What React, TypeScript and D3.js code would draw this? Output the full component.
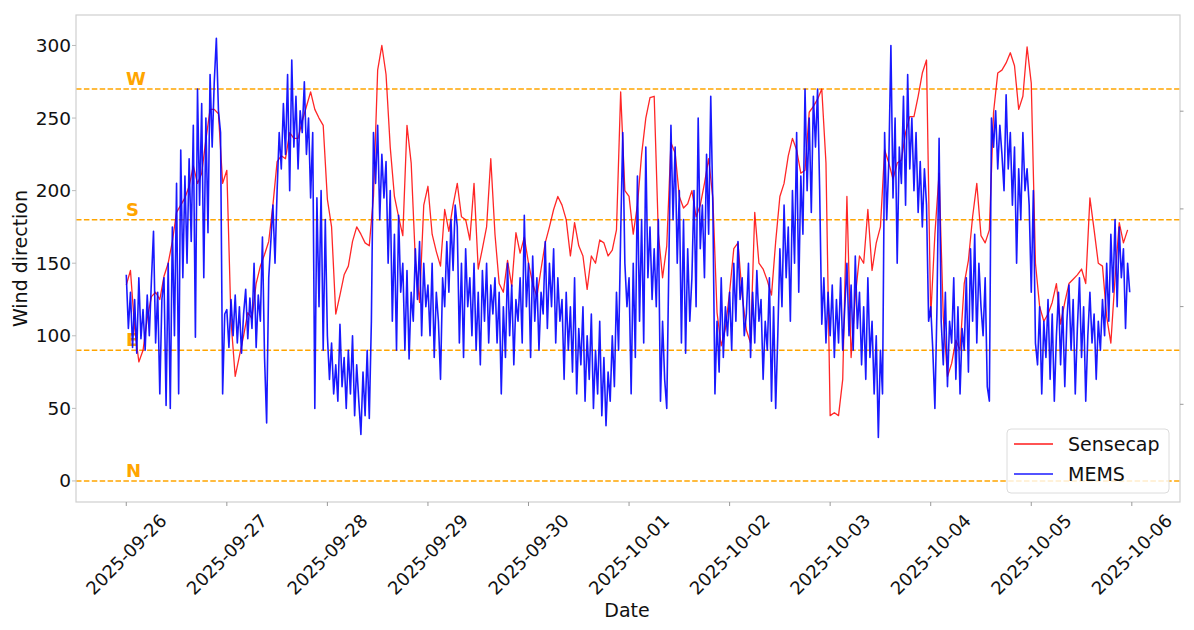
import * as d3 from "d3";

const WIDTH = 1194;
const HEIGHT = 630;
const M = { left: 76, right: 1180, top: 15, bottom: 502 };
const FONT = "DejaVu Sans, sans-serif";

const START = new Date(2025, 8, 26, 0, 0);
const HOUR = 3600 * 1000;

// Sensecap, hourly readings (degrees), one array per day
const sensecapDay0 = [135, 145, 105, 82, 90, 112, 127, 130, 125, 141, 150, 165, 185, 190, 195, 203, 217, 205, 212, 235, 256, 256, 253, 205];
const sensecapDay1 = [214, 110, 72, 86, 100, 116, 112, 136, 148, 156, 165, 190, 220, 224, 222, 240, 236, 236, 248, 258, 268, 256, 250, 245];
const sensecapDay2 = [194, 175, 115, 128, 142, 148, 165, 175, 170, 164, 162, 196, 283, 300, 280, 230, 196, 182, 169, 245, 219, 152, 123, 190];
const sensecapDay3 = [203, 170, 158, 148, 187, 172, 190, 205, 182, 180, 166, 205, 146, 160, 175, 222, 170, 136, 130, 152, 134, 171, 157, 168];
const sensecapDay4 = [150, 136, 127, 146, 164, 175, 187, 196, 190, 180, 155, 178, 162, 155, 132, 155, 150, 166, 164, 155, 159, 173, 268, 200];
const sensecapDay5 = [196, 170, 190, 225, 250, 264, 265, 170, 140, 162, 233, 226, 196, 188, 191, 200, 182, 190, 205, 222, 195, 116, 93, 105];
const sensecapDay6 = [130, 160, 164, 128, 104, 95, 185, 150, 146, 138, 128, 165, 196, 205, 224, 236, 228, 212, 214, 254, 258, 263, 270, 219];
const sensecapDay7 = [45, 47, 45, 70, 196, 85, 127, 155, 150, 187, 145, 164, 175, 228, 219, 208, 219, 221, 240, 251, 251, 265, 281, 290];
const sensecapDay8 = [113, 170, 212, 113, 72, 81, 97, 90, 136, 152, 182, 205, 169, 164, 173, 254, 281, 283, 288, 295, 286, 256, 265, 299];
const sensecapDay9 = [274, 150, 120, 110, 115, 123, 136, 108, 123, 136, 139, 142, 146, 136, 195, 173, 150, 148, 113, 95, 140, 178, 164, 173];

// MEMS, half-hourly readings (degrees), one array per day
const memsDay0 = [142, 105, 130, 92, 125, 88, 140, 98, 118, 90, 128, 100, 138, 172, 95, 130, 60, 125, 140, 52, 150, 50, 175, 100, 205, 60, 228, 140, 210, 150, 222, 165, 245, 99, 270, 190, 260, 140, 250, 171, 280, 230, 275, 305, 255, 240, 60, 115];
const memsDay1 = [118, 92, 125, 100, 128, 95, 120, 88, 115, 132, 98, 126, 105, 150, 92, 128, 110, 168, 85, 40, 140, 165, 190, 150, 200, 240, 215, 260, 225, 280, 200, 290, 230, 265, 215, 255, 240, 275, 225, 250, 195, 240, 50, 195, 120, 200, 90, 180];
const memsDay2 = [100, 70, 95, 60, 80, 55, 108, 65, 85, 50, 90, 60, 100, 45, 80, 55, 32, 75, 45, 90, 43, 110, 240, 205, 245, 180, 225, 195, 220, 150, 200, 110, 170, 90, 183, 130, 150, 90, 145, 84, 130, 110, 160, 125, 165, 100, 150, 120];
const memsDay3 = [135, 100, 150, 85, 130, 110, 70, 140, 120, 165, 130, 180, 145, 190, 175, 95, 150, 85, 160, 120, 140, 100, 150, 90, 130, 80, 145, 110, 150, 95, 135, 115, 140, 95, 130, 60, 120, 85, 150, 100, 135, 80, 125, 110, 140, 95, 183, 120];
const memsDay4 = [150, 85, 155, 110, 140, 90, 130, 115, 165, 105, 150, 120, 160, 95, 140, 110, 125, 70, 130, 90, 120, 75, 140, 60, 105, 80, 120, 55, 100, 70, 115, 50, 90, 60, 110, 45, 85, 38, 75, 55, 100, 65, 130, 90, 170, 240, 150, 120];
const memsDay5 = [140, 60, 150, 85, 210, 110, 180, 95, 230, 140, 175, 125, 160, 120, 180, 55, 110, 70, 50, 150, 245, 180, 230, 150, 200, 95, 180, 88, 160, 110, 140, 200, 120, 250, 160, 190, 140, 225, 170, 265, 190, 60, 110, 75, 140, 85, 120, 100];
const memsDay6 = [130, 90, 150, 110, 165, 125, 140, 100, 115, 150, 85, 130, 95, 145, 110, 125, 70, 110, 90, 140, 55, 120, 50, 100, 160, 120, 190, 140, 175, 110, 200, 150, 240, 130, 210, 170, 270, 200, 250, 185, 265, 230, 270, 200, 108, 140, 95, 130];
const memsDay7 = [100, 135, 85, 125, 95, 140, 90, 120, 150, 100, 135, 90, 155, 105, 130, 80, 120, 70, 140, 85, 110, 60, 100, 30, 90, 60, 240, 180, 220, 300, 195, 250, 150, 230, 205, 265, 190, 280, 215, 250, 200, 240, 185, 220, 175, 215, 190, 110];
const memsDay8 = [120, 90, 50, 120, 236, 110, 80, 130, 65, 110, 95, 140, 70, 120, 60, 105, 90, 140, 75, 160, 110, 170, 95, 150, 120, 100, 140, 65, 55, 250, 230, 255, 215, 245, 225, 200, 266, 215, 240, 190, 230, 150, 215, 180, 240, 200, 215, 190];
const memsDay9 = [130, 200, 95, 80, 120, 60, 110, 85, 125, 70, 115, 55, 100, 130, 80, 120, 65, 110, 135, 90, 125, 60, 105, 140, 85, 120, 55, 100, 130, 95, 115, 70, 110, 90, 125, 100, 150, 110, 170, 130, 180, 120, 175, 140, 160, 105, 150, 130];

const yTicks = [0, 50, 100, 150, 200, 250, 300];
const dateTicks = ["2025-09-26", "2025-09-27", "2025-09-28", "2025-09-29", "2025-09-30", "2025-10-01", "2025-10-02", "2025-10-03", "2025-10-04", "2025-10-05", "2025-10-06"];
const compassLabels = ["N", "E", "S", "W"];
const compassDegrees = [0, 90, 180, 270];
const seriesNames = ["Sensecap", "MEMS"];
const seriesColors = ["red", "blue"];
const twinTicks = [0.2, 0.4, 0.6, 0.8];

type P = { t: Date; v: number };

export default function App() {
  const sensecapVals = [sensecapDay0, sensecapDay1, sensecapDay2, sensecapDay3, sensecapDay4, sensecapDay5, sensecapDay6, sensecapDay7, sensecapDay8, sensecapDay9].flat();
  const memsVals = [memsDay0, memsDay1, memsDay2, memsDay3, memsDay4, memsDay5, memsDay6, memsDay7, memsDay8, memsDay9].flat();

  const sensecap: P[] = sensecapVals.map((v, i) => ({ t: new Date(START.getTime() + i * HOUR), v }));
  const mems: P[] = memsVals.map((v, i) => ({ t: new Date(START.getTime() + (i * HOUR) / 2), v }));

  const x = d3
    .scaleTime()
    .domain([new Date(START.getTime() - 12 * HOUR), new Date(START.getTime() + 251.5 * HOUR)])
    .range([M.left, M.right]);
  const y = d3.scaleLinear().domain([-14.5, 321]).range([M.bottom, M.top]);
  const yTwin = d3.scaleLinear().domain([0, 1]).range([M.bottom, 13.5]);

  const line = d3
    .line<P>()
    .x((d) => x(d.t))
    .y((d) => y(d.v));

  const parse = d3.timeParse("%Y-%m-%d");
  const dates = dateTicks.map((s) => parse(s)!);

  const legendX = 1007;
  const legendY = 429;

  return (
    <svg
      width={WIDTH}
      height={HEIGHT}
      style={{ position: "absolute", left: 0, top: 0, background: "white" }}
      fontFamily={FONT}
    >
      <defs>
        <clipPath id="plot">
          <rect x={M.left} y={M.top} width={M.right - M.left} height={M.bottom - M.top} />
        </clipPath>
      </defs>

      {/* compass reference lines */}
      <g>
        {compassDegrees.map((deg, i) => (
          <g key={deg}>
            <line
              x1={M.left}
              x2={M.right}
              y1={y(deg)}
              y2={y(deg)}
              stroke="orange"
              strokeWidth={1.5}
              strokeDasharray="5.5,2.4"
            />
            <text x={126} y={y(deg) - 4} fill="orange" fontWeight="bold" fontSize={18}>
              {compassLabels[i]}
            </text>
          </g>
        ))}
      </g>

      <g clipPath="url(#plot)" fill="none" strokeLinejoin="round">
        <path d={line(sensecap)!} stroke={seriesColors[0]} strokeWidth={1.3} strokeOpacity={0.85} />
        <path d={line(mems)!} stroke={seriesColors[1]} strokeWidth={1.6} strokeOpacity={0.9} />
      </g>

      {/* frame */}
      <rect
        x={M.left}
        y={M.top}
        width={M.right - M.left}
        height={M.bottom - M.top}
        fill="none"
        stroke="#cfcfcf"
        strokeWidth={1.2}
      />

      {/* y axis */}
      <g>
        {yTicks.map((t) => (
          <g key={t}>
            <line x1={M.left - 4} x2={M.left} y1={y(t)} y2={y(t)} stroke="#bbb" />
            <text x={71} y={y(t)} textAnchor="end" dominantBaseline="central" fontSize={18.5} fill="#111">
              {t}
            </text>
          </g>
        ))}
      </g>

      {/* twin axis ticks on the right */}
      <g>
        {twinTicks.map((t) => (
          <line key={t} x1={M.right} x2={M.right + 3.5} y1={yTwin(t)} y2={yTwin(t)} stroke="#999" />
        ))}
      </g>

      {/* x axis */}
      <g>
        {dates.map((d, i) => {
          const px = x(d);
          const x0 = px + 41.5;
          const y0 = 522;
          return (
            <g key={i}>
              <line x1={px} x2={px} y1={M.bottom} y2={M.bottom + 4} stroke="#999" />
              <text
                x={x0}
                y={y0}
                textAnchor="end"
                fontSize={18}
                fill="#111"
                transform={`rotate(-45, ${x0}, ${y0})`}
              >
                {dateTicks[i]}
              </text>
            </g>
          );
        })}
      </g>

      <text x={627} y={617} textAnchor="middle" fontSize={19} fill="#111">
        Date
      </text>
      <text
        transform={`translate(27, ${(M.top + M.bottom) / 2}) rotate(-90)`}
        textAnchor="middle"
        fontSize={19}
        fill="#111"
      >
        Wind direction
      </text>

      {/* legend */}
      <g>
        <rect
          x={legendX}
          y={legendY}
          width={162}
          height={64}
          rx={4}
          fill="white"
          fillOpacity={0.8}
          stroke="#dcdcdc"
        />
        {seriesNames.map((name, i) => (
          <g key={name}>
            <line
              x1={legendX + 7}
              x2={legendX + 46}
              y1={legendY + 15 + i * 30}
              y2={legendY + 15 + i * 30}
              stroke={seriesColors[i]}
              strokeWidth={1.4}
              strokeOpacity={0.9}
            />
            <text x={legendX + 61} y={legendY + 15 + i * 30} dominantBaseline="central" fontSize={19} fill="#111">
              {name}
            </text>
          </g>
        ))}
      </g>
    </svg>
  );
}
